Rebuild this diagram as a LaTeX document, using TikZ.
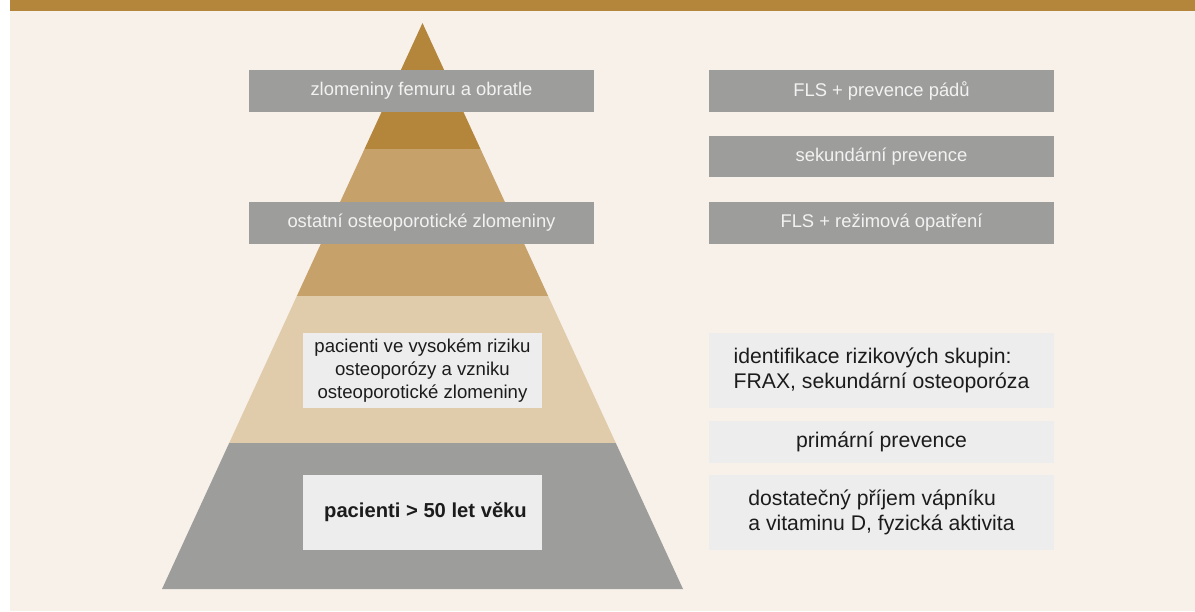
\documentclass[tikz,border=0pt]{standalone}
\usepackage{fontspec}
\setmainfont{Liberation Sans}
\definecolor{goldbar}{HTML}{B3863B}
\definecolor{goldmid}{HTML}{C6A16A}
\definecolor{goldlight}{HTML}{E0CBAB}
\definecolor{pyrgrey}{HTML}{9D9D9B}
\definecolor{paper}{HTML}{F8F1EA}
\definecolor{boxlight}{HTML}{EDEDED}
\definecolor{boxtext}{HTML}{F2F2F2}
\definecolor{darktext}{HTML}{1C1C1C}
\tikzset{
  greybox/.style={fill=pyrgrey, text=boxtext, minimum width=345pt, minimum height=42pt,
    inner sep=0pt, font=\fontsize{18.4}{22}\selectfont},
  lightbox/.style={fill=boxlight, text=darktext, minimum width=345pt, minimum height=42pt,
    inner sep=0pt, align=left, font=\fontsize{21.2}{25.7}\selectfont},
  pyrbox/.style={fill=boxlight, text=darktext, minimum width=239pt, minimum height=75pt,
    inner sep=0pt, align=center},
}

\begin{document}
\begin{tikzpicture}[x=1pt,y=-1pt]
			%%%%% background %%%%%
			\useasboundingbox (0,0) rectangle (1195,611);
			\fill[white] (0,0) rectangle (1195,611);
			\fill[paper] (10,0) rectangle (1195,611);
			\fill[goldbar] (10,0) rectangle (1195,11);
			
			%%%%% pyramid %%%%%
			\begin{scope}
				\clip (422.5,23) -- (683,589) -- (162,589) -- cycle;
				\fill[goldbar] (150,20) rectangle (700,149);
				\fill[goldmid] (150,149) rectangle (700,296);
				\fill[goldlight] (150,296) rectangle (700,443);
				\fill[pyrgrey] (150,443) rectangle (700,590);
			\end{scope}
			
			%%%%% left labels %%%%%
			\node[greybox] (femur) at (421.5,91) {zlomeniny femuru a obratle};
			\node[greybox] (ostatni) at (421.5,223) {ostatní osteoporotické zlomeniny};
			\node[pyrbox, font=\fontsize{18.6}{22.6}\selectfont] (riziko) at (422.5,370.5)
				{pacienti ve vysokém riziku\\osteoporózy a vzniku\\osteoporotické zlomeniny};
			\node[pyrbox, font=\bfseries\fontsize{20.2}{24}\selectfont] (vek) at (422.5,512.5)
				{\hspace*{6pt}pacienti > 50 let věku};
			
			%%%%% right labels %%%%%
			\node[greybox] (padu) at (881.5,91) {FLS + prevence pádů};
			\node[greybox, minimum height=41pt] (sekund) at (881.5,156.5) {sekundární prevence};
			\node[greybox] (rezim) at (881.5,223) {FLS + režimová opatření};
			\node[lightbox, minimum height=75pt] (frax) at (881.5,370.5)
				{identifikace rizikových skupin:\\FRAX, sekundární osteoporóza};
			\node[lightbox] (primar) at (881.5,442) {primární prevence};
			\node[lightbox, minimum height=75pt] (vapnik) at (881.5,512.5)
				{dostatečný příjem vápníku\\a vitaminu D, fyzická aktivita};
\end{tikzpicture}
\end{document}
